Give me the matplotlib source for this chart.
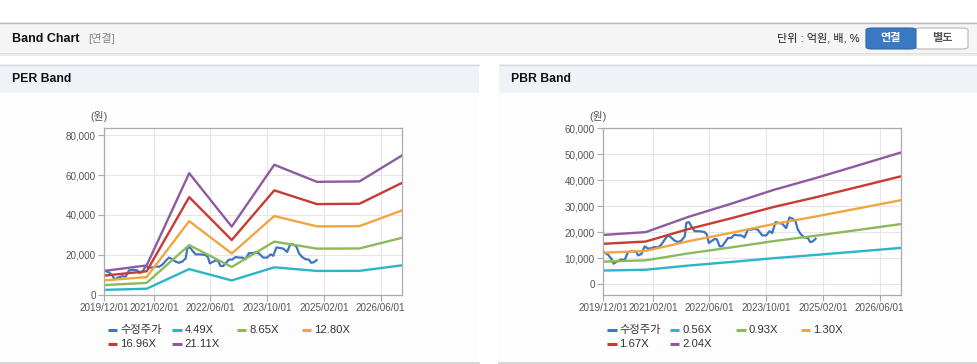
import matplotlib
matplotlib.use("Agg")
import matplotlib.pyplot as plt
import matplotlib.dates as mdates
from matplotlib.patches import Rectangle, FancyBboxPatch
from matplotlib.lines import Line2D
from matplotlib.ticker import FuncFormatter
import pandas as pd

plt.rcParams['font.family'] = ['Liberation Sans', 'Noto Sans CJK KR', 'DejaVu Sans']

# ---------------- data ----------------
price_dates = ["2019-12-01", "2020-01-13", "2020-02-11", "2020-03-01", "2020-03-30", "2020-05-06",
               "2020-06-04", "2020-07-02", "2020-08-09", "2020-09-12", "2020-09-27", "2020-10-25",
               "2020-11-23", "2020-12-21", "2021-01-19", "2021-02-17", "2021-03-16", "2021-04-14",
               "2021-05-12", "2021-06-10", "2021-07-08", "2021-08-06", "2021-09-04", "2021-10-03",
               "2021-11-01", "2021-11-15", "2021-12-08", "2021-12-28", "2022-01-26", "2022-03-08",
               "2022-04-20", "2022-05-10", "2022-05-27", "2022-06-16", "2022-07-15", "2022-08-04",
               "2022-08-27", "2022-09-19", "2022-10-09", "2022-11-07", "2022-12-05", "2023-01-03",
               "2023-02-01", "2023-03-01", "2023-03-29", "2023-04-27", "2023-05-25", "2023-06-23",
               "2023-07-21", "2023-08-28", "2023-10-01", "2023-10-30", "2023-11-22", "2023-12-20",
               "2024-01-18", "2024-02-16", "2024-03-20", "2024-04-18", "2024-05-17", "2024-06-09",
               "2024-06-29", "2024-07-27", "2024-08-25", "2024-09-23", "2024-10-13", "2024-11-05",
               "2024-11-28"]
price = [12300, 11300, 9700, 7800, 8700, 9400,
         9200, 12300, 12600, 12300, 11000, 11500,
         14500, 13600, 13800, 14200, 14100, 15100,
         17000, 18700, 17900, 16700, 16100, 16700,
         18300, 23500, 23800, 22200, 20300, 20300,
         20000, 19000, 15800, 16400, 17300, 17200,
         14500, 14500, 15800, 17700, 17700, 19000,
         18700, 18700, 17900, 20900, 20900, 21300,
         20900, 18700, 18700, 20300, 19600, 23800,
         23500, 23200, 21500, 25600, 25100, 24100,
         20900, 19000, 17900, 17700, 16100, 16400,
         17400]

band_dates = ["2019-12-01", "2020-12-01", "2021-12-01", "2022-12-01",
              "2023-12-01", "2024-12-01", "2025-12-01", "2026-12-01"]

per_names = ["수정주가", "4.49X", "8.65X", "12.80X", "16.96X", "21.11X"]
per_449 = [2560, 3140, 12950, 7270, 13850, 12030, 12080, 14840]
per_865 = [4930, 6060, 24960, 14010, 26690, 23180, 23270, 28590]
per_1280 = [7300, 8960, 36930, 20740, 39490, 34300, 34430, 42300]
per_1696 = [9670, 11870, 48930, 27480, 52320, 45450, 45620, 56050]
per_2111 = [12030, 14780, 60900, 34200, 65120, 56580, 56790, 69770]

pbr_names = ["수정주가", "0.56X", "0.93X", "1.30X", "1.67X", "2.04X"]
pbr_056 = [5180, 5480, 7080, 8460, 9920, 11190, 12530, 13890]
pbr_093 = [8600, 9100, 11760, 14050, 16480, 18580, 20810, 23060]
pbr_130 = [12030, 12710, 16430, 19640, 23040, 25970, 29090, 32240]
pbr_167 = [15450, 16330, 21110, 25230, 29590, 33370, 37380, 41420]
pbr_204 = [18870, 19950, 25790, 30820, 36150, 40760, 45660, 50590]

x_ticks = ["2019-12-01", "2021-02-01", "2022-06-01", "2023-10-01", "2025-02-01", "2026-06-01"]
x_tick_labels = ["2019/12/01", "2021/02/01", "2022/06/01", "2023/10/01", "2025/02/01", "2026/06/01"]
per_yticks = [0, 20000, 40000, 60000, 80000]
pbr_yticks = [0, 10000, 20000, 30000, 40000, 50000, 60000]

colors = ["#3f74bf", "#2bb5c7", "#8cba5a", "#f0a640", "#c93a33", "#8e5aa0"]

# ---------------- figure ----------------
W, H = 978, 364
fig = plt.figure(figsize=(W / 100, H / 100), dpi=100)
fig.patch.set_facecolor("white")


def fx(x):
    return x / W


def fy(y):
    return 1 - y / H


def rect(x0, y0, x1, y1, fc, ec="none", lw=0):
    fig.add_artist(Rectangle((fx(x0), fy(y1)), fx(x1) - fx(x0), fy(y0) - fy(y1),
                             transform=fig.transFigure, facecolor=fc, edgecolor=ec,
                             linewidth=lw, zorder=0))


def hline(x0, x1, y, color, lw=1):
    fig.add_artist(Line2D([fx(x0), fx(x1)], [fy(y), fy(y)], transform=fig.transFigure,
                          color=color, lw=lw, zorder=1))


# top header bar
rect(0, 22, 978, 53, "#f5f5f5")
hline(0, 978, 22.5, "#b9b9b9", 1)
hline(0, 978, 53.5, "#d8d8d8", 1.2)
hline(0, 978, 55, "#ececec", 1.5)
fig.text(fx(12), fy(38.5), "Band Chart", fontsize=9, fontweight="bold", color="#111",
         va="center", ha="left")
fig.text(fx(88), fy(38.5), "[연결]", fontsize=8, color="#888", va="center", ha="left")
fig.text(fx(860), fy(38.5), "단위 : 억원, 배, %", fontsize=8, color="#222", va="center", ha="right")
# buttons
fig.add_artist(FancyBboxPatch((fx(915), fy(49)), fx(968) - fx(915), fy(28) - fy(49),
                              boxstyle="round,pad=0,rounding_size=0.006", transform=fig.transFigure,
                              facecolor="white", edgecolor="#b5b5b5", lw=0.8, zorder=1))
fig.add_artist(FancyBboxPatch((fx(866), fy(49)), fx(916) - fx(866), fy(28) - fy(49),
                              boxstyle="round,pad=0,rounding_size=0.006", transform=fig.transFigure,
                              facecolor="#3a78c2", edgecolor="#2e66aa", lw=0.8, zorder=2))
fig.text(fx(891), fy(38.5), "연결", fontsize=8, fontweight="bold", color="white",
         va="center", ha="center", zorder=3)
fig.text(fx(942), fy(38.5), "별도", fontsize=8, fontweight="bold", color="#555",
         va="center", ha="center", zorder=3)

# panels
for (px0, px1, title) in [(0, 479, "PER Band"), (499, 978, "PBR Band")]:
    rect(px0, 64, px1, 93, "#eff3f8")
    rect(px0, 93, px1, 363, "#fdfdfd")
    hline(px0, px1, 64.5, "#d6d9dd", 1)
    hline(px0, px1, 362.8, "#cfcfcf", 1.2)
    fig.text(fx(px0 + 12), fy(79.5), title, fontsize=8.8, fontweight="bold", color="#111",
             va="center", ha="left")


def setup_axes(rect_px, ylim, yticks):
    x0, y0, x1, y1 = rect_px
    ax = fig.add_axes([fx(x0), fy(y1), fx(x1) - fx(x0), fy(y0) - fy(y1)])
    ax.set_facecolor("white")
    ax.set_xlim(pd.Timestamp("2019-12-01"), pd.Timestamp("2026-12-01"))
    ax.set_ylim(*ylim)
    ax.set_xticks(pd.to_datetime(x_ticks))
    ax.set_xticklabels(x_tick_labels)
    ax.set_yticks(yticks)
    ax.yaxis.set_major_formatter(FuncFormatter(lambda v, p: f"{v:,.0f}"))
    ax.grid(True, color="#e6e6e6", lw=0.8)
    ax.set_axisbelow(True)
    for s in ax.spines.values():
        s.set_color("#ababab")
        s.set_linewidth(0.9)
    ax.tick_params(axis="both", length=4, color="#ababab", width=0.8,
                   labelsize=7.1, labelcolor="#555", pad=2)
    return ax


def legend(names, xs, rows=(330, 344)):
    for i, (n, c) in enumerate(zip(names, colors)):
        r, col = divmod(i, 4)
        mx = xs[col]
        y = rows[r]
        fig.add_artist(Line2D([fx(mx), fx(mx + 9.5)], [fy(y), fy(y)], transform=fig.transFigure,
                              color=c, lw=2.2, solid_capstyle="butt"))
        fig.text(fx(mx + 12.5), fy(y), n, fontsize=8.1, color="#333", va="center", ha="left")


pdates = pd.to_datetime(price_dates)
bdates = pd.to_datetime(band_dates)

# PER chart
ax1 = setup_axes((104, 128, 402, 295), (0, 83500), per_yticks)
ax1.plot(pdates, price, color=colors[0], lw=1.6)
for vals, c in zip([per_449, per_865, per_1280, per_1696, per_2111], colors[1:]):
    ax1.plot(bdates, vals, color=c, lw=1.7)
fig.text(fx(99), fy(117), "(원)", fontsize=7.8, color="#555", va="center", ha="center")
legend(per_names, [108, 172, 237, 302])

# PBR chart
ax2 = setup_axes((603, 128, 901, 295), (-4230, 60000), pbr_yticks)
ax2.plot(pdates, price, color=colors[0], lw=1.6)
for vals, c in zip([pbr_056, pbr_093, pbr_130, pbr_167, pbr_204], colors[1:]):
    ax2.plot(bdates, vals, color=c, lw=1.7)
fig.text(fx(598), fy(117), "(원)", fontsize=7.8, color="#555", va="center", ha="center")
legend(pbr_names, [607, 670, 736, 801])

fig.savefig("out.png", dpi=100, facecolor=fig.get_facecolor())
